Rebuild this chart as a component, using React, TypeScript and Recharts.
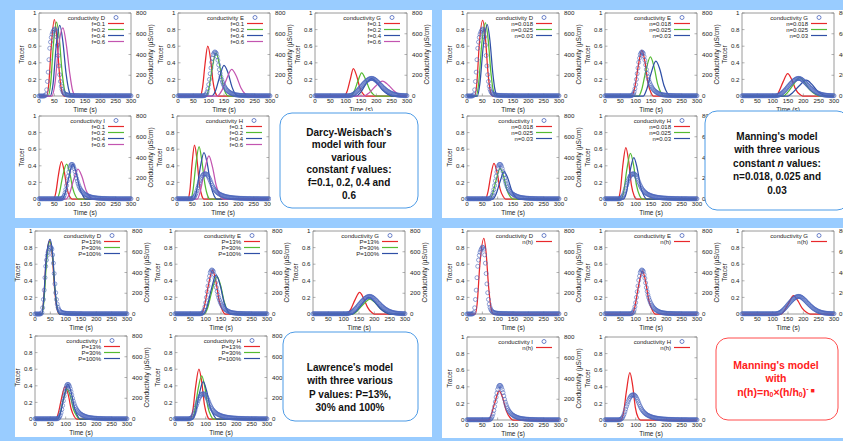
import React from "react";
import { ComposedChart, Line, Scatter, XAxis, YAxis, ReferenceArea } from "recharts";

type Pt = [number, number];

const FONT = '"Liberation Sans", Arial, Helvetica, sans-serif';
const SKY = "#99ccff";
const INK = "#222";
const FRAME = "#808080";
const RED = "#e8282b";
const GREEN = "#55bb33";
const BLUE = "#2f4fa6";
const MAGENTA = "#c355b0";
const OBS = "#4a64bc";

// plot box geometry of every small chart
const PW = 92;
const PH = 83;
const LW = 30;
const RW = 30;
const MT = 4;
const XH = 20;

const timeTicks = [0, 50, 100, 150, 200, 250, 300];
const tracerTicks = [0, 0.2, 0.4, 0.6, 0.8, 1];
const condTicks = [0, 200, 400, 600, 800];

// measured conductivity (µS/cm), every 2.5 s
const obsTime = [
  0, 2.5, 5, 7.5, 10, 12.5, 15, 17.5, 20, 22.5, 25, 27.5,
  30, 32.5, 35, 37.5, 40, 42.5, 45, 47.5, 50, 52.5, 55, 57.5,
  60, 62.5, 65, 67.5, 70, 72.5, 75, 77.5, 80, 82.5, 85, 87.5,
  90, 92.5, 95, 97.5, 100, 102.5, 105, 107.5, 110, 112.5, 115, 117.5,
  120, 122.5, 125, 127.5, 130, 132.5, 135, 137.5, 140, 142.5, 145, 147.5,
  150, 152.5, 155, 157.5, 160, 162.5, 165, 167.5, 170, 172.5, 175, 177.5,
  180, 182.5, 185, 187.5, 190, 192.5, 195, 197.5, 200, 202.5, 205, 207.5,
  210, 212.5, 215, 217.5, 220, 222.5, 225, 227.5, 230, 232.5, 235, 237.5,
  240, 242.5, 245, 247.5, 250, 252.5, 255, 257.5, 260, 262.5, 265, 267.5,
  270, 272.5, 275, 277.5, 280, 282.5, 285, 287.5, 290, 292.5, 295, 297.5,
  300,
];
const obsD = [
  0, 0, 0, 0, 0, 0, 0, 1, 3, 15, 60, 140,
  230, 350, 460, 520, 565, 595, 615, 632, 645, 640, 625, 570,
  490, 390, 290, 205, 140, 95, 65, 45, 32, 24, 18, 15,
  12, 10, 9, 8, 7, 6, 6, 5, 5, 5, 5, 4,
  4, 4, 4, 4, 4, 3, 3, 3, 3, 3, 3, 3,
  3, 3, 2, 2, 2, 2, 2, 2, 2, 2, 2, 2,
  2, 2, 2, 2, 2, 2, 2, 2, 2, 2, 2, 2,
  2, 2, 2, 2, 2, 2, 2, 2, 2, 2, 2, 2,
  2, 2, 2, 2, 2, 2, 2, 2, 2, 2, 2, 2,
  2, 2, 2, 2, 2, 2, 2, 2, 2, 2, 2, 2,
  2,
];
const obsE = [
  2, 2, 2, 2, 2, 2, 2, 2, 2, 2, 2, 2,
  2, 2, 2, 2, 2, 2, 2, 2, 2, 2, 2, 2,
  2, 2, 2, 2, 2, 2, 2, 2, 2, 2, 3, 5,
  10, 22, 40, 70, 110, 160, 215, 270, 325, 365, 400, 415,
  425, 420, 410, 380, 345, 300, 255, 218, 185, 158, 135, 116,
  100, 86, 75, 64, 55, 48, 42, 37, 32, 28, 24, 21,
  18, 16, 14, 12, 11, 10, 9, 8, 7, 6, 6, 5,
  5, 5, 5, 4, 4, 4, 4, 3, 3, 3, 3, 3,
  3, 3, 3, 3, 2, 2, 2, 2, 2, 2, 2, 2,
  2, 2, 2, 2, 2, 2, 2, 2, 2, 2, 2, 2,
  2,
];
const obsG = [
  2, 2, 2, 2, 2, 2, 2, 2, 2, 2, 2, 2,
  2, 2, 2, 2, 2, 2, 2, 2, 2, 2, 2, 2,
  2, 2, 2, 2, 2, 2, 2, 2, 2, 2, 2, 2,
  2, 2, 2, 2, 2, 2, 2, 2, 2, 3, 5, 7,
  9, 12, 16, 21, 27, 33, 40, 47, 55, 63, 72, 81,
  90, 99, 107, 115, 123, 131, 138, 145, 151, 156, 161, 165,
  168, 169, 170, 169, 167, 163, 159, 153, 147, 140, 133, 126,
  118, 110, 103, 95, 88, 81, 74, 67, 61, 55, 50, 45,
  40, 36, 32, 28, 25, 22, 20, 17, 15, 13, 12, 10,
  9, 8, 7, 6, 6, 5, 5, 4, 4, 3, 3, 3,
  3,
];
const obsI = [
  2, 2, 2, 2, 2, 2, 2, 2, 2, 2, 2, 2,
  2, 2, 2, 2, 2, 2, 2, 2, 2, 2, 2, 2,
  2, 2, 2, 2, 2, 3, 5, 10, 20, 36, 60, 92,
  130, 175, 220, 260, 295, 318, 332, 334, 330, 315, 292, 264,
  232, 200, 172, 148, 127, 110, 96, 84, 74, 65, 58, 51,
  46, 41, 37, 33, 30, 27, 24, 21, 19, 17, 16, 14,
  13, 12, 11, 10, 9, 8, 8, 7, 7, 6, 6, 5,
  5, 5, 5, 4, 4, 4, 4, 3, 3, 3, 3, 3,
  3, 3, 3, 3, 2, 2, 2, 2, 2, 2, 2, 2,
  2, 2, 2, 2, 2, 2, 2, 2, 2, 2, 2, 2,
  2,
];
const obsH = [
  2, 2, 2, 2, 2, 2, 2, 2, 2, 2, 2, 2,
  2, 2, 2, 2, 2, 2, 2, 3, 5, 9, 15, 26,
  40, 58, 80, 105, 130, 153, 175, 194, 210, 223, 233, 239,
  242, 243, 242, 236, 228, 215, 200, 183, 165, 147, 130, 115,
  102, 91, 82, 73, 66, 60, 54, 49, 45, 41, 38, 35,
  32, 29, 27, 25, 23, 21, 20, 18, 17, 16, 15, 14,
  13, 12, 11, 10, 10, 9, 9, 8, 8, 7, 7, 6,
  6, 6, 6, 5, 5, 5, 5, 4, 4, 4, 4, 4,
  4, 3, 3, 3, 3, 3, 3, 3, 3, 3, 3, 3,
  2, 2, 2, 2, 2, 2, 2, 2, 2, 2, 2, 2,
  2,
];

// Darcy-Weisbach, f = 0.1, 0.2, 0.4, 0.6 (tracer, [time, value])
const darcyD: Pt[][] = [
  [[0, 0], [25, 0], [32, 0.15], [40, 0.6], [50, 0.92], [58, 0.72], [66, 0.3], [74, 0.06], [82, 0], [300, 0]],
  [[0, 0], [30, 0], [38, 0.15], [47, 0.62], [57, 0.89], [66, 0.7], [75, 0.3], [84, 0.06], [92, 0], [300, 0]],
  [[0, 0], [36, 0], [46, 0.15], [56, 0.6], [68, 0.85], [78, 0.65], [88, 0.28], [98, 0.06], [106, 0], [300, 0]],
  [[0, 0], [42, 0], [52, 0.15], [64, 0.6], [78, 0.82], [89, 0.62], [100, 0.28], [110, 0.06], [120, 0], [300, 0]],
];
const darcyE: Pt[][] = [
  [[0, 0], [72, 0], [80, 0.1], [88, 0.38], [97, 0.6], [106, 0.45], [114, 0.18], [122, 0.04], [130, 0], [300, 0]],
  [[0, 0], [90, 0], [100, 0.08], [110, 0.3], [124, 0.52], [135, 0.38], [146, 0.15], [156, 0.03], [165, 0], [300, 0]],
  [[0, 0], [110, 0], [122, 0.06], [135, 0.22], [150, 0.37], [163, 0.28], [176, 0.11], [188, 0.02], [198, 0], [300, 0]],
  [[0, 0], [128, 0], [142, 0.06], [158, 0.2], [175, 0.32], [190, 0.24], [205, 0.1], [220, 0.02], [232, 0], [300, 0]],
];
const darcyG: Pt[][] = [
  [[0, 0], [95, 0], [105, 0.06], [115, 0.2], [125, 0.33], [136, 0.24], [147, 0.09], [158, 0.02], [166, 0], [300, 0]],
  [[0, 0], [115, 0], [127, 0.05], [140, 0.18], [152, 0.28], [165, 0.2], [178, 0.08], [190, 0.02], [200, 0], [300, 0]],
  [[0, 0], [135, 0], [150, 0.05], [167, 0.15], [185, 0.21], [202, 0.16], [220, 0.07], [238, 0.02], [250, 0], [300, 0]],
  [[0, 0], [160, 0], [177, 0.04], [198, 0.12], [220, 0.18], [240, 0.13], [258, 0.06], [275, 0.015], [288, 0], [300, 0]],
];
const darcyI: Pt[][] = [
  [[0, 0], [48, 0], [55, 0.08], [63, 0.28], [73, 0.45], [82, 0.34], [91, 0.13], [100, 0.03], [108, 0], [300, 0]],
  [[0, 0], [58, 0], [67, 0.08], [77, 0.27], [90, 0.42], [100, 0.32], [110, 0.13], [120, 0.03], [128, 0], [300, 0]],
  [[0, 0], [75, 0], [85, 0.07], [97, 0.26], [110, 0.42], [121, 0.32], [132, 0.14], [143, 0.04], [152, 0], [300, 0]],
  [[0, 0], [88, 0], [99, 0.06], [112, 0.22], [127, 0.36], [140, 0.27], [153, 0.11], [165, 0.03], [175, 0], [300, 0]],
];
const darcyH: Pt[][] = [
  [[0, 0], [35, 0], [42, 0.1], [49, 0.42], [57, 0.65], [65, 0.48], [73, 0.18], [81, 0.04], [88, 0], [300, 0]],
  [[0, 0], [44, 0], [52, 0.1], [61, 0.4], [72, 0.63], [81, 0.46], [91, 0.18], [100, 0.04], [108, 0], [300, 0]],
  [[0, 0], [55, 0], [64, 0.1], [75, 0.36], [88, 0.56], [99, 0.42], [110, 0.17], [121, 0.04], [130, 0], [300, 0]],
  [[0, 0], [66, 0], [76, 0.09], [89, 0.33], [104, 0.52], [116, 0.38], [128, 0.16], [140, 0.04], [150, 0], [300, 0]],
];

// Manning, n = 0.018, 0.025, 0.03
const manD: Pt[][] = [
  [[0, 0], [25, 0], [32, 0.15], [40, 0.62], [51, 0.91], [60, 0.7], [68, 0.3], [76, 0.06], [84, 0], [300, 0]],
  [[0, 0], [30, 0], [38, 0.15], [48, 0.62], [60, 0.88], [69, 0.68], [78, 0.28], [86, 0.06], [94, 0], [300, 0]],
  [[0, 0], [34, 0], [42, 0.15], [53, 0.6], [66, 0.86], [75, 0.66], [84, 0.28], [92, 0.06], [100, 0], [300, 0]],
];
const manE: Pt[][] = [
  [[0, 0], [88, 0], [97, 0.1], [108, 0.35], [120, 0.55], [130, 0.42], [140, 0.16], [150, 0.04], [158, 0], [300, 0]],
  [[0, 0], [110, 0], [120, 0.08], [133, 0.3], [148, 0.47], [160, 0.35], [172, 0.14], [184, 0.03], [193, 0], [300, 0]],
  [[0, 0], [125, 0], [136, 0.08], [150, 0.27], [166, 0.42], [179, 0.32], [192, 0.13], [204, 0.03], [214, 0], [300, 0]],
];
const manG: Pt[][] = [
  [[0, 0], [110, 0], [120, 0.05], [134, 0.17], [149, 0.27], [162, 0.2], [175, 0.08], [188, 0.02], [198, 0], [300, 0]],
  [[0, 0], [135, 0], [148, 0.04], [168, 0.14], [188, 0.22], [205, 0.16], [222, 0.07], [240, 0.02], [252, 0], [300, 0]],
  [[0, 0], [150, 0], [165, 0.04], [186, 0.12], [210, 0.19], [228, 0.14], [246, 0.06], [264, 0.015], [278, 0], [300, 0]],
];
const manI: Pt[][] = [
  [[0, 0], [60, 0], [68, 0.08], [77, 0.27], [88, 0.43], [98, 0.32], [108, 0.12], [118, 0.03], [126, 0], [300, 0]],
  [[0, 0], [75, 0], [84, 0.07], [95, 0.23], [108, 0.37], [119, 0.28], [130, 0.11], [141, 0.03], [150, 0], [300, 0]],
  [[0, 0], [85, 0], [95, 0.06], [107, 0.2], [121, 0.33], [133, 0.25], [146, 0.1], [158, 0.025], [168, 0], [300, 0]],
];
const manH: Pt[][] = [
  [[0, 0], [42, 0], [50, 0.1], [58, 0.4], [68, 0.62], [77, 0.46], [86, 0.17], [95, 0.04], [103, 0], [300, 0]],
  [[0, 0], [52, 0], [61, 0.09], [71, 0.35], [83, 0.55], [93, 0.41], [103, 0.16], [113, 0.04], [122, 0], [300, 0]],
  [[0, 0], [60, 0], [70, 0.08], [81, 0.32], [94, 0.5], [105, 0.37], [116, 0.15], [127, 0.04], [136, 0], [300, 0]],
];

// Lawrence, P = 13%, 30%, 100%
const lawD: Pt[][] = [
  [[0, 0], [22, 0], [28, 0.15], [36, 0.62], [48, 0.88], [56, 0.72], [64, 0.3], [72, 0.06], [80, 0], [300, 0]],
  [[0, 0], [23, 0], [29, 0.15], [37, 0.6], [49, 0.87], [57, 0.72], [65, 0.3], [73, 0.06], [81, 0], [300, 0]],
  [[0, 0], [22, 0], [28, 0.16], [36, 0.64], [49, 0.9], [57, 0.74], [65, 0.31], [73, 0.06], [81, 0], [300, 0]],
];
const lawE: Pt[][] = [
  [[0, 0], [85, 0], [95, 0.08], [108, 0.33], [122, 0.53], [133, 0.4], [144, 0.16], [155, 0.04], [164, 0], [300, 0]],
  [[0, 0], [95, 0], [106, 0.07], [120, 0.27], [137, 0.45], [149, 0.34], [161, 0.14], [173, 0.03], [182, 0], [300, 0]],
  [[0, 0], [92, 0], [104, 0.08], [118, 0.29], [134, 0.47], [147, 0.35], [160, 0.14], [172, 0.03], [181, 0], [300, 0]],
];
const lawG: Pt[][] = [
  [[0, 0], [112, 0], [122, 0.05], [137, 0.17], [152, 0.26], [165, 0.19], [178, 0.08], [191, 0.02], [200, 0], [300, 0]],
  [[0, 0], [130, 0], [145, 0.04], [165, 0.12], [186, 0.18], [204, 0.13], [222, 0.06], [240, 0.015], [252, 0], [300, 0]],
  [[0, 0], [128, 0], [142, 0.04], [162, 0.13], [182, 0.2], [200, 0.15], [218, 0.07], [236, 0.02], [248, 0], [300, 0]],
];
const lawI: Pt[][] = [
  [[0, 0], [68, 0], [76, 0.07], [86, 0.24], [98, 0.39], [108, 0.3], [118, 0.12], [128, 0.03], [136, 0], [300, 0]],
  [[0, 0], [74, 0], [82, 0.07], [92, 0.23], [105, 0.36], [115, 0.28], [126, 0.11], [137, 0.03], [145, 0], [300, 0]],
  [[0, 0], [74, 0], [83, 0.07], [94, 0.26], [107, 0.42], [118, 0.32], [129, 0.13], [140, 0.03], [148, 0], [300, 0]],
];
const lawH: Pt[][] = [
  [[0, 0], [50, 0], [58, 0.1], [67, 0.38], [78, 0.6], [87, 0.45], [96, 0.17], [105, 0.04], [113, 0], [300, 0]],
  [[0, 0], [55, 0], [64, 0.09], [74, 0.33], [87, 0.52], [97, 0.39], [107, 0.15], [117, 0.04], [126, 0], [300, 0]],
  [[0, 0], [58, 0], [67, 0.08], [78, 0.28], [92, 0.45], [103, 0.34], [115, 0.14], [127, 0.04], [136, 0], [300, 0]],
];

// Manning with n(h)
const nhD: Pt[][] = [
  [[0, 0], [27, 0], [33, 0.12], [42, 0.6], [55, 0.91], [62, 0.75], [70, 0.35], [78, 0.08], [86, 0], [300, 0]],
];
const nhE: Pt[][] = [
  [[0, 0], [88, 0], [97, 0.08], [109, 0.33], [122, 0.52], [132, 0.4], [143, 0.16], [155, 0.04], [164, 0], [300, 0]],
];
const nhG: Pt[][] = [
  [[0, 0], [128, 0], [138, 0.04], [152, 0.13], [168, 0.22], [182, 0.16], [196, 0.07], [210, 0.02], [222, 0], [300, 0]],
];
const nhI: Pt[][] = [
  [[0, 0], [70, 0], [78, 0.05], [90, 0.2], [105, 0.35], [116, 0.27], [128, 0.11], [140, 0.03], [150, 0], [300, 0]],
];
const nhH: Pt[][] = [
  [[0, 0], [52, 0], [60, 0.08], [70, 0.35], [81, 0.57], [90, 0.42], [99, 0.15], [108, 0.03], [116, 0], [300, 0]],
];

const fNames = ["f=0.1", "f=0.2", "f=0.4", "f=0.6"];
const nNames = ["n=0.018", "n=0.025", "n=0.03"];
const pNames = ["P=13%", "P=30%", "P=100%"];
const hNames = ["n(h)"];

const fColors = [RED, GREEN, BLUE, MAGENTA];
const nColors = [RED, GREEN, BLUE];

type Spec = {
  x: number;
  y: number;
  site: string;
  obs: number[];
  curves: Pt[][];
  names: string[];
  colors: string[];
};

const charts: Spec[] = [
  { x: 39, y: 13, site: "D", obs: obsD, curves: darcyD, names: fNames, colors: fColors },
  { x: 178, y: 13, site: "E", obs: obsE, curves: darcyE, names: fNames, colors: fColors },
  { x: 315, y: 13, site: "G", obs: obsG, curves: darcyG, names: fNames, colors: fColors },
  { x: 39, y: 116, site: "I", obs: obsI, curves: darcyI, names: fNames, colors: fColors },
  { x: 177, y: 116, site: "H", obs: obsH, curves: darcyH, names: fNames, colors: fColors },

  { x: 467, y: 13, site: "D", obs: obsD, curves: manD, names: nNames, colors: nColors },
  { x: 605, y: 13, site: "E", obs: obsE, curves: manE, names: nNames, colors: nColors },
  { x: 742, y: 13, site: "G", obs: obsG, curves: manG, names: nNames, colors: nColors },
  { x: 467, y: 116, site: "I", obs: obsI, curves: manI, names: nNames, colors: nColors },
  { x: 605, y: 116, site: "H", obs: obsH, curves: manH, names: nNames, colors: nColors },

  { x: 35, y: 231, site: "D", obs: obsD, curves: lawD, names: pNames, colors: nColors },
  { x: 175, y: 231, site: "E", obs: obsE, curves: lawE, names: pNames, colors: nColors },
  { x: 313, y: 231, site: "G", obs: obsG, curves: lawG, names: pNames, colors: nColors },
  { x: 35, y: 336, site: "I", obs: obsI, curves: lawI, names: pNames, colors: nColors },
  { x: 175, y: 336, site: "H", obs: obsH, curves: lawH, names: pNames, colors: nColors },

  { x: 467, y: 231, site: "D", obs: obsD, curves: nhD, names: hNames, colors: [RED] },
  { x: 605, y: 231, site: "E", obs: obsE, curves: nhE, names: hNames, colors: [RED] },
  { x: 742, y: 231, site: "G", obs: obsG, curves: nhG, names: hNames, colors: [RED] },
  { x: 467, y: 337, site: "I", obs: obsI, curves: nhI, names: hNames, colors: [RED] },
  { x: 605, y: 337, site: "H", obs: obsH, curves: nhH, names: hNames, colors: [RED] },
];

const ring = (p: any) => (
  <circle cx={p.cx} cy={p.cy} r={2} fill="none" stroke={OBS} strokeWidth={0.6} />
);

const tickStyle = { fontSize: 6.2, fill: INK };
const titleStyle = { textAnchor: "middle" as const, fontSize: 6.5, fill: INK };

function TraceChart({ x, y, site, obs, curves, names, colors }: Spec) {
  const W = LW + PW + RW;
  const H = MT + PH + XH;
  const obsData = obsTime.map((t, i) => ({ t, c: obs[i] }));
  const right = LW + PW;
  return (
    <div style={{ position: "absolute", left: x - LW, top: y - MT, width: W, height: H }}>
      <ComposedChart width={W} height={H} margin={{ top: MT, right: 0, bottom: 0, left: 0 }}>
        <XAxis
          xAxisId="t"
          type="number"
          dataKey="t"
          domain={[0, 300]}
          ticks={timeTicks}
          interval={0}
          height={XH}
          axisLine={false}
          tickSize={-2.5}
          tickMargin={5.4}
          tickLine={{ stroke: FRAME, strokeWidth: 0.6 }}
          tick={tickStyle}
          label={{ value: "Time (s)", position: "insideBottom", offset: 4.5, style: titleStyle }}
        />
        <YAxis
          yAxisId="tr"
          domain={[0, 1]}
          ticks={tracerTicks}
          interval={0}
          width={LW}
          axisLine={false}
          tickSize={-2.5}
          tickMargin={5}
          tickLine={{ stroke: FRAME, strokeWidth: 0.6 }}
          tick={tickStyle}
          label={{ value: "Tracer", angle: -90, position: "insideLeft", offset: 13, style: titleStyle }}
        />
        <YAxis
          yAxisId="c"
          orientation="right"
          domain={[0, 800]}
          ticks={condTicks}
          interval={0}
          width={RW}
          axisLine={false}
          tickSize={-2.5}
          tickMargin={7.5}
          tickLine={{ stroke: FRAME, strokeWidth: 0.6 }}
          tick={tickStyle}
          label={{ value: "Conductivity (\u00b5S/cm)", angle: -90, position: "insideRight", offset: 10, style: titleStyle }}
        />
        <ReferenceArea
          xAxisId="t"
          yAxisId="tr"
          x1={0}
          x2={300}
          y1={0}
          y2={1}
          fill="none"
          fillOpacity={0}
          stroke={FRAME}
          strokeWidth={0.8}
          ifOverflow="visible"
        />
        <Scatter xAxisId="t" yAxisId="c" data={obsData} dataKey="c" shape={ring} isAnimationActive={false} />
        {curves.map((c, i) => (
          <Line
            key={i}
            xAxisId="t"
            yAxisId="tr"
            data={c.map(([t, v]) => ({ t, v }))}
            dataKey="v"
            type="monotone"
            stroke={colors[i]}
            strokeWidth={1.25}
            dot={false}
            activeDot={false}
            isAnimationActive={false}
          />
        ))}
      </ComposedChart>
      <svg
        width={W}
        height={H}
        style={{ position: "absolute", left: 0, top: 0, pointerEvents: "none", fontFamily: FONT }}
      >
        <text x={right - 26} y={MT + 4.5} fontSize={6} fill={INK} textAnchor="end" dominantBaseline="central">
          {`conductivity ${site}`}
        </text>
        <circle cx={right - 15} cy={MT + 4.5} r={2} fill="none" stroke={OBS} strokeWidth={0.8} />
        {names.map((n, i) => (
          <g key={n}>
            <text
              x={right - 26}
              y={MT + 10.5 + i * 6}
              fontSize={6}
              fill={INK}
              textAnchor="end"
              dominantBaseline="central"
            >
              {n}
            </text>
            <line
              x1={right - 23}
              x2={right - 7}
              y1={MT + 10.5 + i * 6}
              y2={MT + 10.5 + i * 6}
              stroke={colors[i]}
              strokeWidth={1.2}
            />
          </g>
        ))}
      </svg>
    </div>
  );
}

const panels = [
  { x: 15, y: 10, w: 417, h: 208 },
  { x: 442, y: 10, w: 401, h: 208 },
  { x: 15, y: 228, w: 417, h: 209 },
  { x: 442, y: 228, w: 401, h: 210 },
];

function Boxes() {
  const bold = { fontFamily: FONT, fontWeight: 700 as const, textAnchor: "middle" as const };
  return (
    <svg width={843} height={441} style={{ position: "absolute", left: 0, top: 0, pointerEvents: "none" }}>
      {/* the text frames sit on a white patch that hides part of the neighbouring chart */}
      <rect x={271} y={111} width={150} height={102} fill="#fff" />
      <rect x={280} y={113} width={138} height={95} rx={12} fill="#fff" stroke="#4d9be6" strokeWidth={1} />
      <g {...bold} fontSize={10} fill="#111" dominantBaseline="central">
        <text x={349} y={132}>Darcy-Weisbach's</text>
        <text x={349} y={144.6}>model with four</text>
        <text x={349} y={157.2}>various</text>
        <text x={349} y={169.8}>
          constant <tspan fontStyle="italic">f</tspan> values:
        </text>
        <text x={349} y={182.4}>f=0.1, 0.2, 0.4 and</text>
        <text x={349} y={195}>0.6</text>
      </g>

      <rect x={705} y={111} width={144} height={99} rx={12} fill="#fff" stroke="#4d9be6" strokeWidth={1} />
      <g {...bold} fontSize={10} fill="#111" dominantBaseline="central">
        <text x={777} y={136}>Manning's model</text>
        <text x={777} y={149.5}>with three various</text>
        <text x={777} y={163}>
          constant <tspan fontStyle="italic">n</tspan> values:
        </text>
        <text x={777} y={176.5}>n=0.018, 0.025 and</text>
        <text x={777} y={190}>0.03</text>
      </g>

      <rect x={283} y={332} width={135} height={89} rx={12} fill="#fff" stroke="#4d9be6" strokeWidth={1} />
      <g {...bold} fontSize={10} fill="#111" dominantBaseline="central">
        <text x={350} y={367.5}>Lawrence's model</text>
        <text x={350} y={380.8}>with three various</text>
        <text x={350} y={394}>P values: P=13%,</text>
        <text x={350} y={407.2}>30% and 100%</text>
      </g>

      <rect x={701} y={333} width={142} height={85} fill="#fff" />
      <rect x={716} y={338} width={122} height={82} rx={12} fill="#fff" stroke="#ff4d4d" strokeWidth={1} />
      <g {...bold} fontSize={10.5} fill="#ff2020" dominantBaseline="central">
        <text x={776} y={365}>Manning's model</text>
        <text x={776} y={378.3}>with</text>
        <text x={776} y={391.7}>
          n(h)=n<tspan fontSize={7} dy={2.5}>0</tspan>
          <tspan dy={-2.5}>×(h/h</tspan>
          <tspan fontSize={7} dy={2.5}>0</tspan>
          <tspan dy={-2.5}>)</tspan>
          <tspan fontSize={7} dy={-4}>-</tspan>
          <tspan fontSize={7} dy={2.5}> ■</tspan>
        </text>
      </g>
    </svg>
  );
}

export default function App() {
  return (
    <div
      style={{
        position: "fixed",
        left: 0,
        top: 0,
        width: 843,
        height: 441,
        background: SKY,
        overflow: "hidden",
        fontFamily: FONT,
      }}
    >
      {panels.map((p, i) => (
        <div
          key={i}
          style={{ position: "absolute", left: p.x, top: p.y, width: p.w, height: p.h, background: "#fff" }}
        />
      ))}
      {charts.map((c, i) => (
        <TraceChart key={i} {...c} />
      ))}
      <Boxes />
    </div>
  );
}
